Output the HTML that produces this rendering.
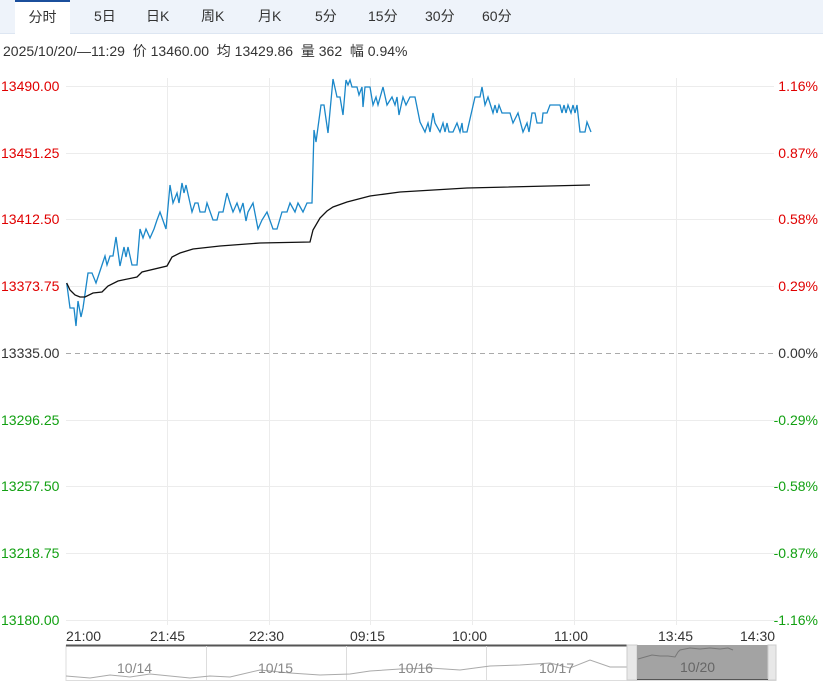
<!DOCTYPE html>
<html><head><meta charset="utf-8"><style>
body{margin:0;width:823px;height:684px;background:#fff;font-family:"Liberation Sans","Noto Sans CJK SC",sans-serif;overflow:hidden;position:relative}
.tabs{position:absolute;left:0;top:0;width:823px;height:33px;background:#eef3fa;border-bottom:1px solid #dde6f2}
.tab{position:absolute;top:0;height:33px;line-height:33px;font-size:14px;color:#333}
.info{position:absolute;left:3px;top:41px;font-size:14px;color:#333;white-space:pre}
svg{position:absolute;left:0;top:0}
</style></head><body>
<div class="tabs">
<div class="tab" style="left:15px;width:55px;background:#fff;border-top:2px solid #1b4f9c;height:32px;top:0;text-align:center;line-height:31px">分时</div>
<div class="tab" style="left:94px">5日</div>
<div class="tab" style="left:146px">日K</div>
<div class="tab" style="left:201px">周K</div>
<div class="tab" style="left:258px">月K</div>
<div class="tab" style="left:315px">5分</div>
<div class="tab" style="left:368px">15分</div>
<div class="tab" style="left:425px">30分</div>
<div class="tab" style="left:482px">60分</div>
</div>
<div class="info">2025/10/20/—11:29  价 13460.00  均 13429.86  量 362  幅 0.94%</div>
<svg width="823" height="684" font-family="Liberation Sans, sans-serif" font-size="14">
<g stroke="#ececec" stroke-width="1">
<line x1="66" y1="86.5" x2="774" y2="86.5"/><line x1="66" y1="153.5" x2="774" y2="153.5"/><line x1="66" y1="219.5" x2="774" y2="219.5"/><line x1="66" y1="286.5" x2="774" y2="286.5"/>
<line x1="66" y1="420.5" x2="774" y2="420.5"/><line x1="66" y1="486.5" x2="774" y2="486.5"/><line x1="66" y1="553.5" x2="774" y2="553.5"/><line x1="66" y1="620.5" x2="774" y2="620.5"/>
<line x1="167.5" y1="78" x2="167.5" y2="625"/><line x1="269.5" y1="78" x2="269.5" y2="625"/><line x1="370.5" y1="78" x2="370.5" y2="625"/><line x1="472.5" y1="78" x2="472.5" y2="625"/><line x1="574.5" y1="78" x2="574.5" y2="625"/><line x1="676.5" y1="78" x2="676.5" y2="625"/>
</g>
<line x1="66" y1="353.5" x2="774" y2="353.5" stroke="#aaa" stroke-dasharray="5,4"/>
<g fill="#e00000"><text x="1" y="91">13490.00</text><text x="1" y="158">13451.25</text><text x="1" y="224">13412.50</text><text x="1" y="291">13373.75</text></g>
<text x="1" y="358" fill="#333">13335.00</text>
<g fill="#12a012"><text x="1" y="425">13296.25</text><text x="1" y="491">13257.50</text><text x="1" y="558">13218.75</text><text x="1" y="625">13180.00</text></g>
<g fill="#e00000" text-anchor="end"><text x="818" y="91">1.16%</text><text x="818" y="158">0.87%</text><text x="818" y="224">0.58%</text><text x="818" y="291">0.29%</text></g>
<text x="818" y="358" fill="#333" text-anchor="end">0.00%</text>
<g fill="#12a012" text-anchor="end"><text x="818" y="425">-0.29%</text><text x="818" y="491">-0.58%</text><text x="818" y="558">-0.87%</text><text x="818" y="625">-1.16%</text></g>
<polyline fill="none" stroke="#1a87c9" stroke-width="1.3" points="66.7,283 70,308 74,308 76,326 78,301 81,317 83,308 88,273 92,273 96,283 102,265 105,256 107,265 110,256 113,256 116,237 120,266 124,247 126,257 128,247 132,265 137,265 140,229 143,238 146,229 150,238 154,229 157,220 160,212 166,229 170,185 173,203 177,193 179,203 182,183 184,193 186,185 192,212 195,203 198,203 200,212 205,212 207,203 213,220 217,220 219,212 223,212 227,193 230,203 233,212 237,203 240,212 243,203 246,221 248,212 253,203 258,229 262,220 267,212 273,229 277,229 282,212 287,212 290,203 295,212 298,203 303,212 307,203 312,203 314,130 316,142 321,105 324,105 328,133 333,79 337,97 340,97 343,115 346,80 348,85 350,80 352,87 357,87 359,95 362,87 363,107 365,87 370,87 373,105 376,97 378,105 383,87 387,105 392,97 395,105 397,97 399,115 403,97 406,105 410,97 415,97 420,122 425,132 428,123 430,132 433,113 435,123 440,132 443,123 445,132 447,123 449,132 453,132 457,123 460,132 462,123 463,132 467,132 475,97 480,97 482,87 485,105 488,97 493,113 495,105 497,113 499,105 502,113 510,113 513,123 518,113 523,132 527,123 529,132 532,113 535,113 537,123 542,123 543,113 547,113 550,105 560,105 562,113 564,105 566,113 568,105 571,113 573,105 575,113 577,105 580,132 585,132 587,122 591,132"/>
<polyline fill="none" stroke="#111" stroke-width="1.3" points="66.7,283 70,290 75,295 80,297 85,297 93,293 102,292 108,286 118,281 137,277 142,272 167,266 172,257 180,253 193,249 220,246 260,243 310,242 313,230 320,218 327,211 333,207 347,202 370,196 400,192 467,188 590,185"/>
<g fill="#333" font-size="14"><text x="66" y="641">21:00</text><text x="150" y="641">21:45</text><text x="249" y="641">22:30</text><text x="350" y="641">09:15</text><text x="452" y="641">10:00</text><text x="554" y="641">11:00</text><text x="658" y="641">13:45</text><text x="740" y="641">14:30</text></g>
<rect x="66" y="645.5" width="710" height="35" fill="#fff" stroke="#ddd"/>
<line x1="66" y1="645.5" x2="628" y2="645.5" stroke="#555" stroke-width="2"/>
<g stroke="#ddd"><line x1="206.5" y1="646" x2="206.5" y2="680"/><line x1="346.5" y1="646" x2="346.5" y2="680"/><line x1="486.5" y1="646" x2="486.5" y2="680"/></g>
<polyline fill="none" stroke="#aaa" points="66,676 90,678 110,675 130,677 150,674 170,676 190,678 210,676 230,677 260,670 290,673 320,675 350,674 370,671 400,669 430,668 460,670 490,666 520,665 550,663 570,668 590,660 610,667 627,667"/>
<g fill="#888" font-size="14"><text x="117" y="673">10/14</text><text x="258" y="673">10/15</text><text x="398" y="673">10/16</text><text x="539" y="673">10/17</text></g>
<rect x="627" y="645" width="10" height="35" fill="#e8e8e8" stroke="#ccc"/>
<rect x="637" y="645" width="131" height="35" fill="#a3a3a3"/>
<rect x="768" y="645" width="8" height="35" fill="#e8e8e8" stroke="#ccc"/>
<line x1="637" y1="679.5" x2="768" y2="679.5" stroke="#555"/>
<polyline fill="none" stroke="#777" points="638,659 645,657 652,655 660,656 668,656 675,657 678,652 680,650 690,648 700,649 710,648 720,649 728,648 733,650"/>
<text x="680" y="672" fill="#666" font-size="14">10/20</text>
</svg>
</body></html>
